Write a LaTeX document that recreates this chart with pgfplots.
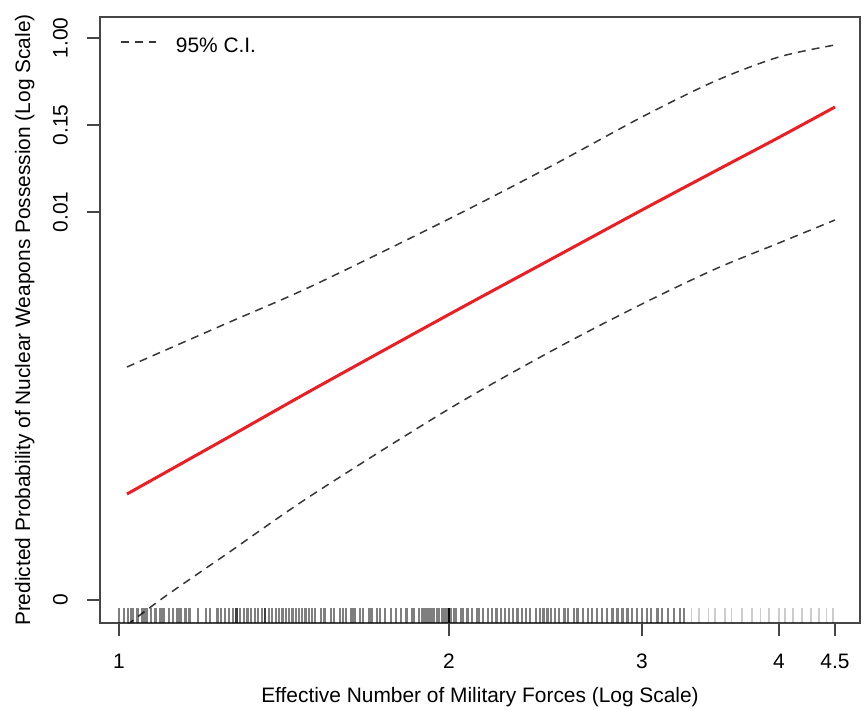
\documentclass[border=0pt]{standalone}
\usepackage{fontspec}
\setmainfont{Liberation Sans}
\usepackage{pgfplots}
\pgfplotsset{compat=1.18}
\usepackage{pgfplotstable}

\definecolor{fitred}{RGB}{235,30,36}
\definecolor{cigray}{RGB}{55,55,55}
\definecolor{boxgray}{RGB}{70,70,70}

% rug: observed values of the effective number of military forces
\pgfplotstableread{
x
1.00
1.01
1.02
1.025
1.03
1.04
1.05
1.055
1.06
1.07
1.08
1.09
1.095
1.10
1.11
1.12
1.13
1.135
1.14
1.15
1.16
1.18
1.20
1.21
1.23
1.24
1.25
1.26
1.27
1.28
1.28
1.29
1.30
1.31
1.32
1.33
1.34
1.35
1.36
1.36
1.37
1.38
1.39
1.40
1.41
1.42
1.43
1.44
1.45
1.46
1.47
1.48
1.49
1.50
1.51
1.53
1.54
1.56
1.57
1.59
1.60
1.61
1.63
1.64
1.66
1.67
1.69
1.70
1.72
1.73
1.75
1.77
1.79
1.81
1.83
1.85
1.86
1.88
1.89
1.90
1.91
1.92
1.93
1.94
1.95
1.96
1.97
1.98
1.99
2.00
2.00
2.00
2.00
2.00
2.01
2.02
2.03
2.05
2.06
2.08
2.10
2.12
2.13
2.15
2.17
2.19
2.21
2.23
2.25
2.27
2.29
2.31
2.33
2.35
2.37
2.40
2.42
2.44
2.46
2.48
2.50
2.52
2.55
2.57
2.60
2.62
2.65
2.68
2.70
2.73
2.76
2.79
2.82
2.85
2.88
2.91
2.94
2.97
3.00
3.03
3.06
3.10
3.13
3.17
3.21
3.25
3.28
}\rugdense

\pgfplotstableread{
x
3.33
3.38
3.45
3.50
3.57
3.62
3.70
3.78
3.85
3.92
4.00
4.05
4.12
4.20
4.28
4.35
4.42
4.48
}\rugsparse

\begin{document}
\begin{tikzpicture}
\begin{axis}[
    name=ax,
    width=380pt, height=303pt,
    scale only axis,
    xmode=log,
    xmin=0.961, xmax=4.743,
    ymin=-23, ymax=583,
    xtick={1,2,3,4,4.5},
    xticklabels={1,2,3,4,4.5},
    xminorticks=false,
    ytick={0,388,475,562},
    yticklabels={0,0.01,0.15,1.00},
    tick align=outside,
    xtick pos=bottom, ytick pos=left,
    major tick length=6.5pt,
    tick style={boxgray, line width=0.8pt},
    axis line style={boxgray, line width=0.8pt},
    tick label style={font=\fontsize{10.45}{12}\selectfont},
    xticklabel shift=5.5pt,
    yticklabel shift=6pt,
    yticklabel style={rotate=90, anchor=south},
    xlabel={Effective Number of Military Forces (Log Scale)},
    ylabel={Predicted Probability of Nuclear Weapons Possession (Log Scale)},
    label style={font=\fontsize{10.45}{12}\selectfont},
    xlabel style={at={(axis description cs:0.5,-0.1304)}, anchor=base},
    ylabel style={at={(axis description cs:-0.0921,0.5)}, anchor=base, rotate=0},
    legend style={draw=none, fill=none, at={(rel axis cs:0,1)}, anchor=north west,
        xshift=10pt, yshift=-8.5pt, inner sep=0pt, column sep=7.5pt,
        font=\fontsize{10.45}{12}\selectfont},
    legend cell align=left,
    legend image code/.code={\draw[#1] (0pt,0.25em) -- (17.5pt,0.25em);},
]
% rug of observations
\addplot[only marks, mark=|, mark size=3.75pt,
    mark options={line width=1.1pt, draw=black, draw opacity=0.5}, forget plot]
    table[x index=0, y index=0, y expr=-15.5] {\rugdense};
\addplot[only marks, mark=|, mark size=3.75pt,
    mark options={line width=0.8pt, draw=black, draw opacity=0.2}, forget plot]
    table[x index=0, y index=0, y expr=-15.5] {\rugsparse};

% confidence band
\addplot[cigray, line width=0.75pt, dash pattern=on 4pt off 3pt, smooth]
    coordinates {(1.017,233) (1.25,276) (1.5,314) (2,381) (2.5,436) (3,483) (3.5,519) (4,543) (4.5,555)};
\addlegendentry{95\% C.I.}
\addplot[cigray, line width=0.75pt, dash pattern=on 4pt off 3pt, smooth, forget plot]
    coordinates {(1.017,-25) (1.1,3) (1.25,45) (1.5,105) (2,191) (2.5,251) (3,296) (3.5,331) (4,357) (4.5,380)};

% predicted probability
\addplot[fitred, line width=1.5pt, smooth]
    coordinates {(1.017,106) (1.25,161) (1.5,210) (2,285.5) (2.5,343) (3,390) (3.5,429) (4,462.6) (4.5,493)};

\coordinate (bl) at (rel axis cs:0,0);
\coordinate (tr) at (rel axis cs:1,1);
\end{axis}
\pgfresetboundingbox
\path ([xshift=-50pt, yshift=-43pt]bl) rectangle ([xshift=1pt, yshift=8.5pt]tr);
\end{tikzpicture}
\end{document}
